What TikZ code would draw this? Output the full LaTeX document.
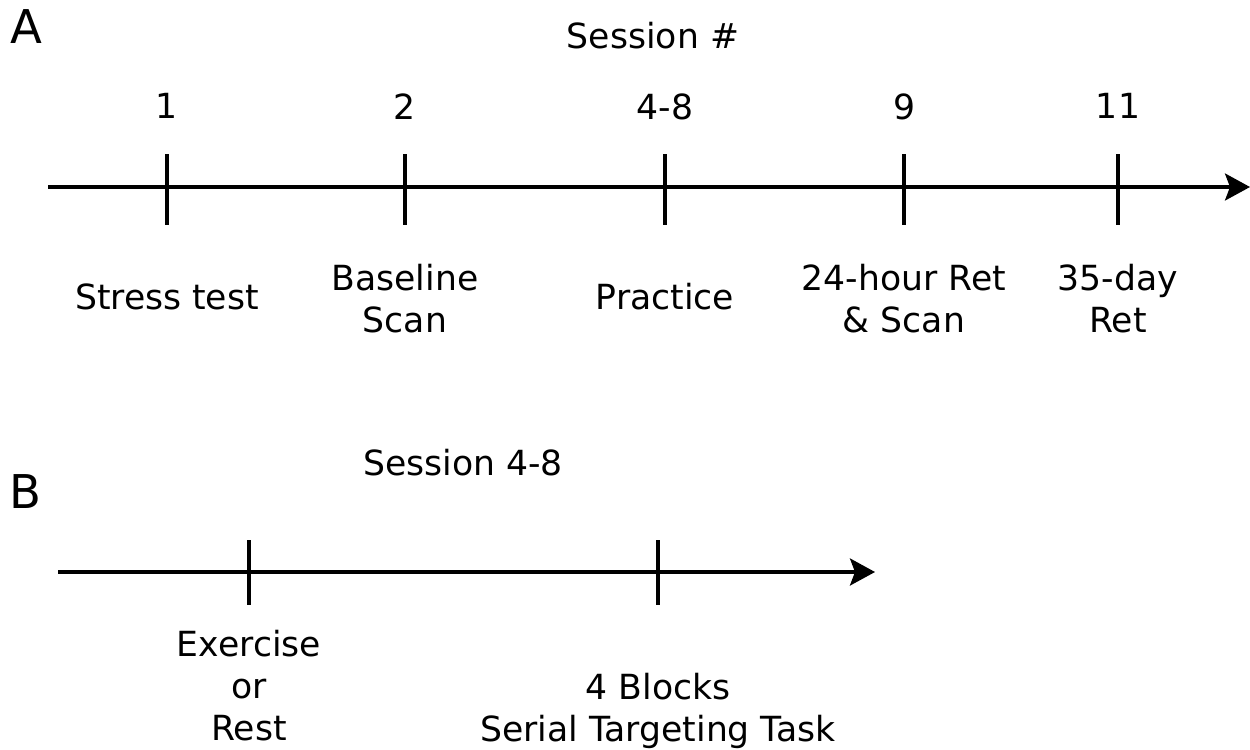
\documentclass[tikz,border=0pt]{standalone}
\usepackage{fontspec}
\setmainfont{DejaVu Sans}
\usetikzlibrary{arrows.meta}

\begin{document}
\begin{tikzpicture}[x=0.02cm,y=-0.02cm,
    axis/.style={line width=1.9pt,-{Stealth[length=0.5cm,width=0.54cm,inset=0.1cm]}},
    tickline/.style={line width=2.1pt},
    lbl/.style={align=center,anchor=north,inner sep=0pt,font=\fontsize{19.7}{24}\selectfont},
    panel/.style={inner sep=0pt,font=\fontsize{26.5}{30}\selectfont}]
\useasboundingbox (0,0) rectangle (1250,750);

% panel A: timeline over all sessions
\node[panel] (A) at (26,27) {A};
\node[lbl] (sesA) at (653,22) {Session \#};
\coordinate (a0) at (48,187);
\coordinate (a1) at (1250,187);
\draw[axis] (a0) -- (a1);

% ticks with session number on top, label underneath
\foreach \x/\num/\name in {167/1/s1, 405/2/s2, 665/4-8/s3, 904/9/s4, 1118/11/s5}{
  \coordinate (\name top) at (\x,154);
  \coordinate (\name bot) at (\x,225);
  \draw[tickline] (\name top) -- (\name bot);
  \node[lbl] (\name num) at (\x,93) {\num};
}
\node[lbl] (stress) at (167,283) {Stress test};
\node[lbl] (base) at (405,264) {Baseline\\Scan};
\node[lbl] (prac) at (665,283) {Practice};
\node[lbl] (ret24) at (904,264) {24-hour Ret\\\& Scan};
\node[lbl] (ret35) at (1118,264) {35-day\\Ret};

% panel B: what happens inside one practice session
\node[panel] (B) at (25,492) {B};
\node[lbl] (sesB) at (463,449) {Session 4-8};
\coordinate (b0) at (58,572);
\coordinate (b1) at (875,572);
\draw[axis] (b0) -- (b1);
\foreach \x/\name in {249/e1, 658/e2}{
  \coordinate (\name top) at (\x,540);
  \coordinate (\name bot) at (\x,605);
  \draw[tickline] (\name top) -- (\name bot);
}
\node[lbl] (exer) at (249,630) {Exercise\\or\\Rest};
\node[lbl] (task) at (658,673) {4 Blocks\\Serial Targeting Task};
\end{tikzpicture}
\end{document}
